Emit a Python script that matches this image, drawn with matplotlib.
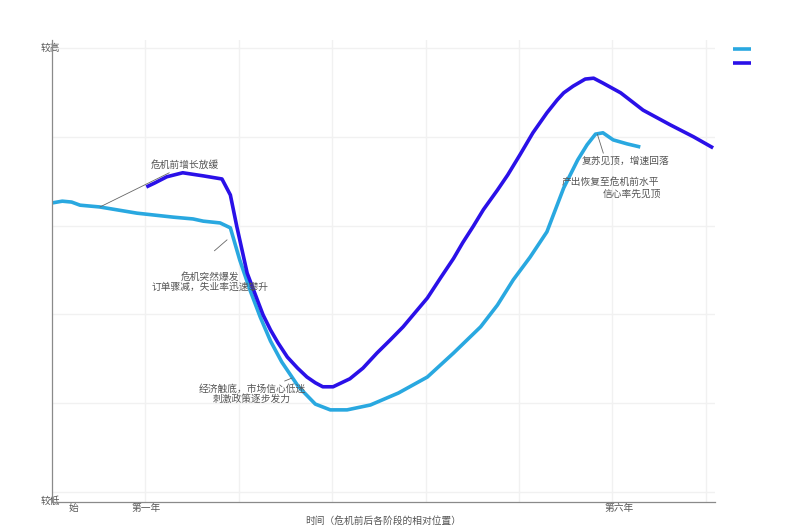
import numpy as np
import matplotlib
matplotlib.use("Agg")
import matplotlib.pyplot as plt

plt.rcParams['font.family'] = ['Noto Sans CJK SC', 'DejaVu Sans']

# ------------------------------------------------------------
# data
# ------------------------------------------------------------
output_x = np.array([0.0, 1.1, 2.1, 3.0, 5.1, 9.1, 13.0, 15.1, 16.2, 18.0, 19.1, 20.1,
                     21.2, 22.3, 23.4, 24.6, 26.4, 28.2, 29.8, 31.6, 34.1, 37.1, 40.2,
                     43.0, 45.9, 47.7, 49.4, 51.2, 53.0, 54.8, 56.3, 57.3, 58.2, 59.0,
                     60.1, 61.6, 63.0])
output_y = np.array([65.1, 65.5, 65.3, 64.6, 64.2, 62.8, 61.9, 61.5, 61.0, 60.6, 59.5, 52.3,
                     45.5, 39.4, 34.0, 29.3, 23.7, 19.8, 18.5, 18.5, 19.6, 22.3, 25.9,
                     31.3, 37.2, 42.1, 47.8, 52.9, 58.6, 68.5, 74.8, 78.2, 80.6, 80.9,
                     79.3, 78.4, 77.7])

conf_x = np.array([10.1, 11.0, 12.3, 14.0, 16.2, 18.2, 19.1, 19.8, 20.9, 22.0, 22.6, 23.4,
                   24.2, 25.2, 26.3, 27.3, 28.2, 29.0, 30.1, 31.9, 33.3, 34.8, 36.2, 37.6,
                   40.2, 41.6, 43.0, 44.0, 45.1, 46.2, 47.7, 48.8, 50.1, 51.5, 53.0, 54.1,
                   54.8, 55.8, 57.1, 58.0, 59.0, 60.9, 63.3, 66.2, 68.7, 70.8])
conf_y = np.array([68.7, 69.6, 71.0, 71.9, 71.2, 70.5, 66.9, 59.7, 49.3, 43.2, 39.9, 36.5,
                   33.6, 30.4, 27.9, 25.9, 24.6, 23.7, 23.7, 25.5, 27.9, 31.3, 34.2, 37.2,
                   43.7, 48.2, 52.6, 56.2, 59.8, 63.6, 68.0, 71.4, 75.9, 80.9, 85.4, 88.3,
                   89.9, 91.4, 93.0, 93.2, 92.1, 89.9, 86.0, 82.7, 80.0, 77.5])

series_names = ["实际产出", "市场信心"]
series_colors = ["#29a8e0", "#2a10e8"]

x_tick_pos = [2.25, 10.07, 60.75]
x_tick_labels = ["始", "第一年", "第六年"]
y_tick_pos = [100.2, -1.8]
y_tick_labels = ["较高", "较低"]
x_title = "时间（危机前后各阶段的相对位置）"

# (text, text position, arrow target or None, relpos, shrinkA)
notes = [
    ("危机前增长放缓", (14.25, 73.65), (5.14, 64.2), (0.5, 0.5), 0),
    ("危机突然爆发\n订单骤减，失业率迅速攀升", (16.93, 47.3), (18.75, 56.8), (0.33, 1.0), 20),
    ("经济触底，市场信心低迷\n刺激政策逐步发力", (21.43, 22.07), (25.71, 25.68), (0.74, 1.0), 0),
    ("复苏见顶，增速回落", (61.39, 74.55), (58.4, 80.6), (0.26, 1.0), 0),
    ("产出恢复至危机前水平", (59.79, 69.82), None, None, 0),
    ("信心率先见顶", (62.14, 67.2), None, None, 0),
]

# ------------------------------------------------------------
# figure
# ------------------------------------------------------------
W, H = 792, 528
fig = plt.figure(figsize=(W / 100, H / 100), dpi=100)
ax = fig.add_axes([52 / W, 1 - 502 / H, (715 - 52) / W, (502 - 40) / H])

l1, = ax.plot(output_x, output_y, color=series_colors[0], lw=2.6,
              solid_joinstyle='round', solid_capstyle='butt', label=series_names[0])
l2, = ax.plot(conf_x, conf_y, color=series_colors[1], lw=2.6,
              solid_joinstyle='round', solid_capstyle='butt', label=series_names[1])

ax.set_xlim(0, 71.0)
ax.set_ylim(-2.25, 101.8)

# faint grid on minor ticks
ax.set_xticks(np.arange(10, 71, 10), minor=True)
ax.set_yticks(np.arange(0, 101, 20), minor=True)
ax.grid(which='minor', color='#f1f1f1', lw=1.0)
ax.set_axisbelow(True)

ax.set_xticks(x_tick_pos)
ax.set_xticklabels(x_tick_labels)
ax.set_yticks(y_tick_pos)
ax.set_yticklabels(y_tick_labels)
ax.tick_params(which='both', length=0)
ax.tick_params(axis='x', pad=0.8, labelsize=7, labelcolor='#555555')
ax.tick_params(axis='y', pad=1.4, labelsize=7, labelcolor='#555555')
for t in ax.get_yticklabels():
    t.set_horizontalalignment('center')

ax.set_xlabel(x_title, fontsize=7, color='#555555', labelpad=2)

for side in ['top', 'right']:
    ax.spines[side].set_visible(False)
for side in ['left', 'bottom']:
    ax.spines[side].set_color('#8a8a8a')
    ax.spines[side].set_linewidth(0.9)

# annotations
for text, pos, target, relpos, shrink in notes:
    if target is None:
        ax.text(pos[0], pos[1], text, fontsize=7, color='#555555',
                ha='center', va='center', linespacing=1.05)
    else:
        ax.annotate(text, xy=target, xytext=pos, fontsize=7, color='#555555',
                    ha='center', va='center', linespacing=1.05,
                    arrowprops=dict(arrowstyle='-', color='#666666', lw=0.6,
                                    relpos=relpos, shrinkA=shrink, shrinkB=0))

# legend: swatches only
fig.legend(handles=[l1, l2], labels=['', ''], loc='upper left',
           bbox_to_anchor=(733 / W, 1 - 44 / H), frameon=False, fontsize=7,
           handlelength=1.85, borderaxespad=0, borderpad=0, handletextpad=0,
           labelspacing=0.45)

fig.savefig("out.png", dpi=100)
